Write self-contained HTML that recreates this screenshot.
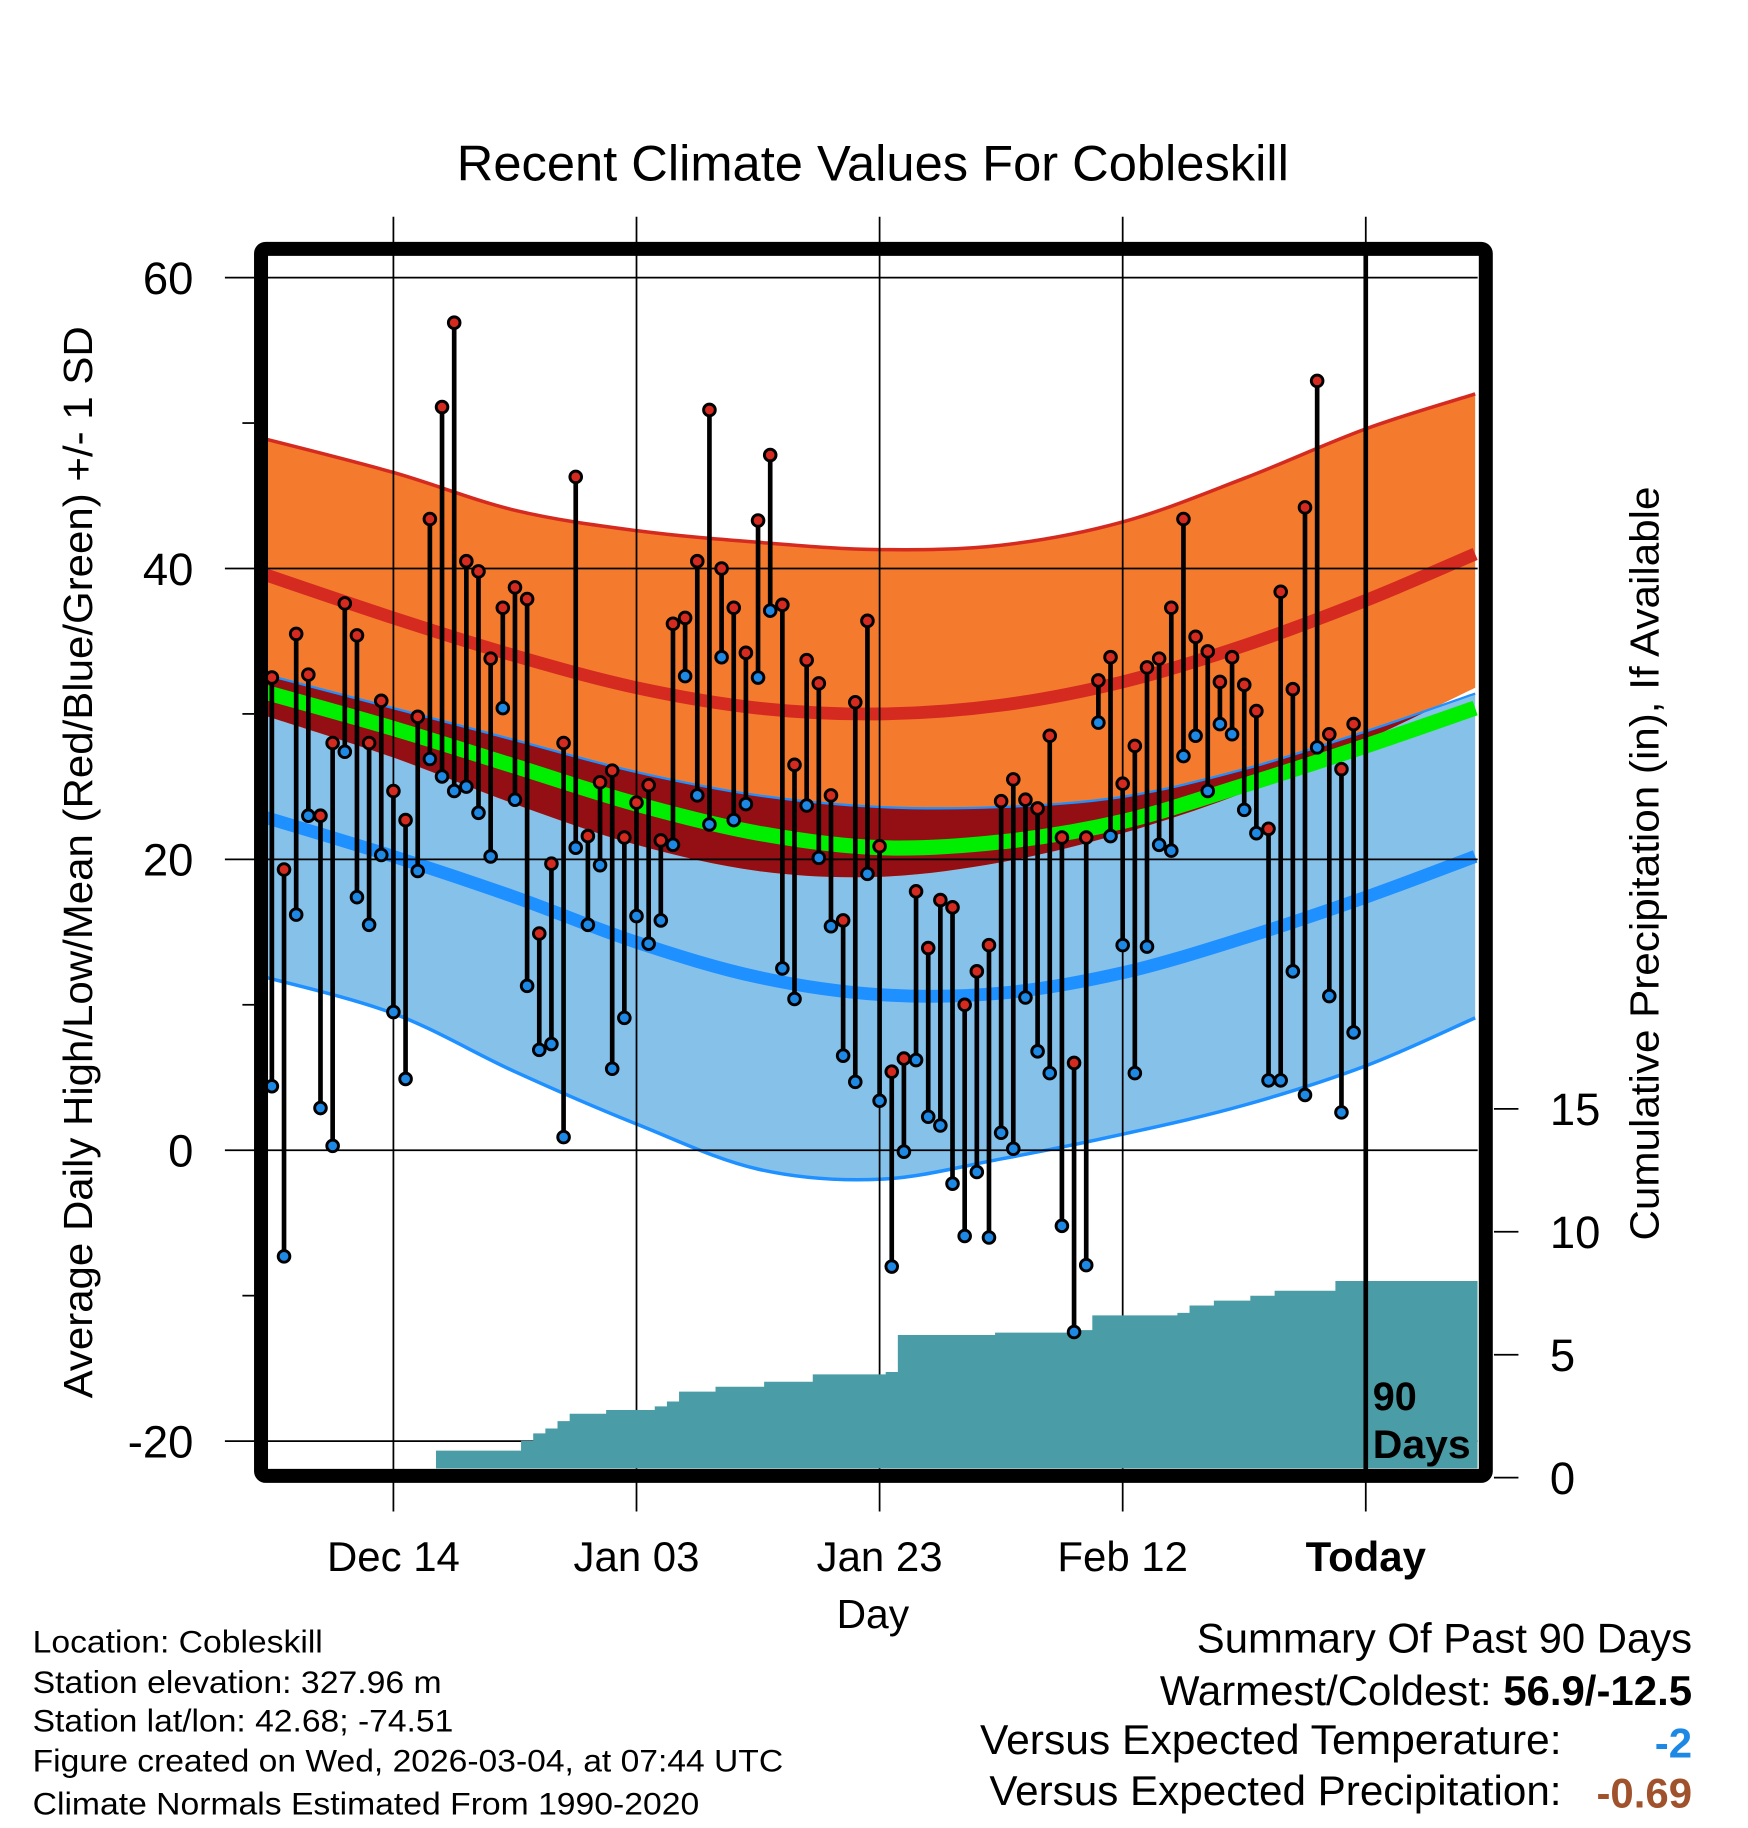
<!DOCTYPE html>
<html><head><meta charset="utf-8"><style>
html,body{margin:0;padding:0;background:#fff}
svg{display:block}
text{font-family:"Liberation Sans",sans-serif}
</style></head><body>
<svg id="chart" width="1748" height="1828" viewBox="0 0 1500 1568.6" xmlns="http://www.w3.org/2000/svg">
<rect width="1500" height="1569" fill="#fff"/>
<defs><clipPath id="plotclip"><rect x="230" y="219" width="1038" height="1041"/></clipPath>
<clipPath id="lowclip"><path id="lowclipPath" d=""/></clipPath></defs>
<g id="bands" clip-path="url(#plotclip)"></g>
<g id="grid"></g>
<g id="precip" clip-path="url(#plotclip)"></g>
<g id="marks"></g>
<g id="axes"></g>
<text x="749" y="155" font-size="43" text-anchor="middle" textLength="714" lengthAdjust="spacingAndGlyphs">Recent Climate Values For Cobleskill</text>
<text transform="translate(79,740) rotate(-90)" font-size="35" text-anchor="middle" textLength="920" lengthAdjust="spacingAndGlyphs">Average Daily High/Low/Mean (Red/Blue/Green) +/- 1 SD</text>
<text transform="translate(1423,741) rotate(-90)" font-size="35" text-anchor="middle" textLength="647" lengthAdjust="spacingAndGlyphs">Cumulative Precipitation (in), If Available</text>
<text x="749" y="1397" font-size="35" text-anchor="middle">Day</text>
<text x="1178" y="1210" font-size="34" font-weight="bold">90</text>
<text x="1178" y="1251" font-size="34" font-weight="bold" textLength="84" lengthAdjust="spacingAndGlyphs">Days</text>
<g font-size="27">
<text x="28" y="1418" textLength="249" lengthAdjust="spacingAndGlyphs">Location: Cobleskill</text>
<text x="28" y="1453" textLength="351" lengthAdjust="spacingAndGlyphs">Station elevation: 327.96 m</text>
<text x="28" y="1486" textLength="361" lengthAdjust="spacingAndGlyphs">Station lat/lon: 42.68; -74.51</text>
<text x="28" y="1520" textLength="644" lengthAdjust="spacingAndGlyphs">Figure created on Wed, 2026-03-04, at 07:44 UTC</text>
<text x="28" y="1557" textLength="572" lengthAdjust="spacingAndGlyphs">Climate Normals Estimated From 1990-2020</text>
</g>
<g font-size="36">
<text x="1452" y="1418" text-anchor="end" textLength="425" lengthAdjust="spacingAndGlyphs">Summary Of Past 90 Days</text>
<text x="1452" y="1463" text-anchor="end">Warmest/Coldest: <tspan font-weight="bold">56.9/-12.5</tspan></text>
<text x="1340" y="1505" text-anchor="end" textLength="499" lengthAdjust="spacingAndGlyphs">Versus Expected Temperature:</text>
<text x="1452" y="1508" text-anchor="end" font-weight="bold" fill="#1e88e5">-2</text>
<text x="1340" y="1549" text-anchor="end" textLength="491" lengthAdjust="spacingAndGlyphs">Versus Expected Precipitation:</text>
<text x="1452" y="1551" text-anchor="end" font-weight="bold" fill="#a0522d">-0.69</text>
</g>
</svg>
<script>
// daily observations (90 days, ending yesterday)
const highs=[32.5,19.3,35.5,32.7,23,28,37.6,35.4,28,30.9,24.7,22.7,29.8,43.4,51.1,56.9,40.5,39.8,33.8,37.3,38.7,37.9,14.9,19.7,28,46.3,21.6,25.3,26.1,21.5,23.9,25.1,21.3,36.2,36.6,40.5,50.9,40,37.3,34.2,43.3,47.8,37.5,26.5,33.7,32.1,24.4,15.8,30.8,36.4,20.9,5.4,6.3,17.8,13.9,17.2,16.7,10,12.3,14.1,24,25.5,24.1,23.5,28.5,21.5,6,21.5,32.3,33.9,25.2,27.8,33.2,33.8,37.3,43.4,35.3,34.3,32.2,33.9,32,30.2,22.1,38.4,31.7,44.2,52.9,28.6,26.2,29.3];
const lows=[4.4,-7.3,16.2,23,2.9,0.3,27.4,17.4,15.5,20.3,9.5,4.9,19.2,26.9,25.7,24.7,25,23.2,20.2,30.4,24.1,11.3,6.9,7.3,0.9,20.8,15.5,19.6,5.6,9.1,16.1,14.2,15.8,21,32.6,24.4,22.4,33.9,22.7,23.8,32.5,37.1,12.5,10.4,23.7,20.1,15.4,6.5,4.7,19,3.4,-8,-0.1,6.2,2.3,1.7,-2.3,-5.9,-1.5,-6,1.2,0.1,10.5,6.8,5.3,-5.2,-12.5,-7.9,29.4,21.6,14.1,5.3,14,21,20.6,27.1,28.5,24.7,29.3,28.6,23.4,21.8,4.8,4.8,12.3,3.8,27.7,10.6,2.6,8.1];
const precipCum=[0,0,0,0,0,0,0,0,0.35,0.35,0.35,0.35,0.35,0.35,1.1,1.1,1.1,1.1,1.1,1.1,1.1,1.5,1.8,2.0,2.3,2.6,2.6,2.6,2.75,2.75,2.75,2.75,2.9,3.1,3.5,3.5,3.5,3.7,3.7,3.7,3.7,3.9,3.9,3.9,3.9,4.2,4.2,4.2,4.2,4.2,4.2,4.3,5.8,5.8,5.8,5.8,5.8,5.8,5.8,5.8,5.9,5.9,5.9,5.9,5.9,5.9,6.0,6.0,6.6,6.6,6.6,6.6,6.6,6.6,6.6,6.7,7.0,7.0,7.2,7.2,7.2,7.4,7.4,7.6,7.6,7.6,7.6,7.6,8.0,8.0];
// climate normals at knot days (days relative to today)
const knotDays=[-91,-80,-70,-60,-50,-40,-30,-20,-10,0,9];
const highPlusSD=[49.0,46.6,44,42.6,41.8,41.3,41.6,43.2,46.2,49.6,52];
const highMean=[39.7,36.6,34,31.8,30.4,30,30.6,32.2,34.7,37.8,41];
const highMinusSD=[30,27,23.8,21,19.2,18.8,19.8,21.8,24.6,28.2,31.8];
const avgMean=[31.6,29,26.4,23.8,21.8,20.8,21.2,22.6,25.1,27.8,30.4];
const lowPlusSD=[32.8,30.4,28.2,26,24.4,23.6,23.6,24.3,26.2,28.8,31.4];
const lowMean=[23,20.2,17.4,14.3,11.9,10.7,10.8,12.2,14.6,17.4,20.2];
const lowMinusSD=[12,9.4,5.4,1.8,-1.3,-2,-0.6,1.1,3.1,5.8,9.1];
const yTicks=[60,40,20,0,-20];
const yMinor=[50,30,10,-10];
const precipTicks=[0,5,10,15];
const xTickDays=[-80,-60,-40,-20,0];
const xTickLabels=["Dec 14","Jan 03","Jan 23","Feb 12","Today"];

const NS="http://www.w3.org/2000/svg";
const X=d=>1172+d*10.43;
const Y=v=>987-v*12.48;
const P=v=>1268-v*21.1;
function mk(tag,attrs,parent){const e=document.createElementNS(NS,tag);for(const k in attrs)e.setAttribute(k,attrs[k]);parent.appendChild(e);return e;}
function pts(arr){return knotDays.map((d,i)=>[X(d),Y(arr[i])]);}
function curve(p){let s="M"+p[0][0]+","+p[0][1];for(let i=0;i<p.length-1;i++){const p0=p[i-1]||p[i],p1=p[i],p2=p[i+1],p3=p[i+2]||p2;
 s+=" C"+(p1[0]+(p2[0]-p0[0])/6)+","+(p1[1]+(p2[1]-p0[1])/6)+" "+(p2[0]-(p3[0]-p1[0])/6)+","+(p2[1]-(p3[1]-p1[1])/6)+" "+p2[0]+","+p2[1];}return s;}
function band(top,bot){const t=curve(pts(top));const b=curve(pts(bot).reverse());return t+" L"+b.slice(1)+" Z";}
const bands=document.getElementById('bands');
const lb=mk('path',{d:band(lowPlusSD,lowMinusSD),fill:'#85c1e9'},bands);

const ob=mk('path',{d:band(highPlusSD,highMinusSD),fill:'#f47a2e'},bands);

document.getElementById('lowclipPath').setAttribute('d',band(lowPlusSD,lowMinusSD));
const ov=mk('path',{d:band(highPlusSD,highMinusSD),fill:'#930f14','clip-path':'url(#lowclip)'},bands);

const lines=[[highPlusSD,'#d42a20',3,'high-plus-sd-line'],[lowPlusSD,'#1e90ff',2,'low-plus-sd-line'],[lowMinusSD,'#1e90ff',3,'low-minus-sd-line'],[highMean,'#d42a20',11,'high-mean-line'],[lowMean,'#1e90ff',11,'low-mean-line'],[avgMean,'#00ee00',13,'average-mean-line']];
lines.forEach(l=>{const e=mk('path',{d:curve(pts(l[0])),fill:'none',stroke:l[1],'stroke-width':l[2]},bands);
});
const grid=document.getElementById('grid');
yTicks.forEach(v=>{const e=mk('line',{x1:193,x2:1268,y1:Y(v),y2:Y(v),stroke:'#000','stroke-width':1.5},grid);
});
xTickDays.forEach(d=>{const e=mk('line',{x1:X(d),x2:X(d),y1:186,y2:1297,stroke:'#000','stroke-width':1.5},grid);
});
const pr=document.getElementById('precip');
let pd="M230,1268";
precipCum.forEach((v,i)=>{const xs=X(i-90)-5.2;pd+=" L"+xs+","+P(v);pd+=" L"+(xs+10.43)+","+P(v);});
pd+=" L1268,"+P(precipCum[precipCum.length-1])+" L1268,1268 Z";
const pa=mk('path',{d:pd,fill:'#4a9ca6'},pr);

const mg=document.getElementById('marks');
const tl=mk('line',{x1:1172,x2:1172,y1:219,y2:1262,stroke:'#000','stroke-width':4},mg);

highs.forEach((h,i)=>{const x=X(i-90);
 const s=mk('line',{x1:x,x2:x,y1:Y(h),y2:Y(lows[i]),stroke:'#000','stroke-width':4},mg);
 });
highs.forEach((h,i)=>{const x=X(i-90);
 const a=mk('circle',{cx:x,cy:Y(h),r:5,fill:'#d42a20',stroke:'#000','stroke-width':2.5},mg);
 
 const b=mk('circle',{cx:x,cy:Y(lows[i]),r:5,fill:'#1e88e5',stroke:'#000','stroke-width':2.5},mg);
 });
const ax=document.getElementById('axes');
const fr=mk('rect',{x:224,y:213.5,width:1051,height:1053,fill:'none',stroke:'#000','stroke-width':12,rx:4},ax);

yTicks.forEach(v=>{const t=mk('text',{x:166,y:Y(v)+14,'font-size':39,'text-anchor':'end'},ax);t.textContent=v;
 });
yMinor.forEach(v=>{const e=mk('line',{x1:208,x2:218,y1:Y(v),y2:Y(v),stroke:'#000','stroke-width':1.5},ax);
 });
precipTicks.forEach(v=>{const e=mk('line',{x1:1282,x2:1303,y1:P(v),y2:P(v),stroke:'#000','stroke-width':1.5},ax);
 
 const t=mk('text',{x:1330,y:P(v)+14,'font-size':39},ax);t.textContent=v;
 });
xTickDays.forEach((d,i)=>{const t=mk('text',{x:X(d),y:1348,'font-size':36,'text-anchor':'middle','font-weight':i==4?'bold':'normal'},ax);t.textContent=xTickLabels[i];
 });
</script>
</body></html>
